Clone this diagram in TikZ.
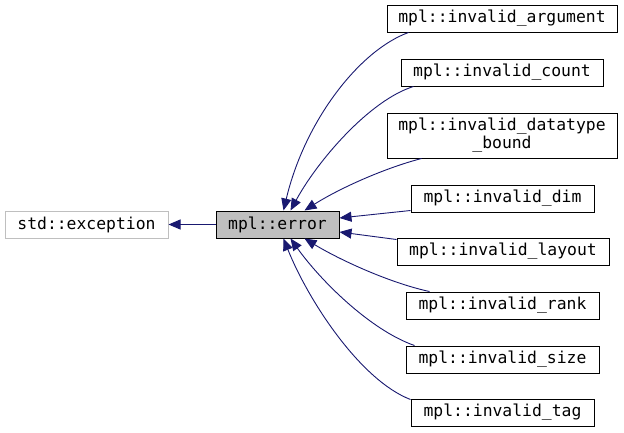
\documentclass[tikz,border=0pt]{standalone}
\usepackage{fontspec}
\setmonofont{DejaVu Sans Mono}
\usetikzlibrary{arrows.meta}
\definecolor{edgeblue}{RGB}{25,25,112}
\definecolor{boxgray}{RGB}{191,191,191}
\tikzset{
  cls/.style={draw=black, line width=1pt, inner sep=0pt, align=center,
    font=\ttfamily\fontsize{16.4}{18}\selectfont, minimum height=27pt},
  inh/.style={draw=edgeblue, line width=0.9pt,
    {Triangle[length=12pt,width=10pt,fill=edgeblue]}-},
}
\begin{document}
\begin{tikzpicture}[x=1pt,y=-1pt]
\useasboundingbox (0,0) rectangle (624,432);
\node[cls, draw=boxgray, minimum width=163pt] (exc) at (86.5,224.5) {std::exception};
\node[cls, fill=boxgray, minimum width=123pt] (err) at (277.5,224.5) {mpl::error};
\node[cls, minimum width=230pt] (arg) at (502,18.5) {mpl::invalid\_argument};
\node[cls, minimum width=202pt] (cnt) at (502,72.5) {mpl::invalid\_count};
\node[cls, minimum width=230pt, minimum height=45pt] (dtb) at (502,135.5) {mpl::invalid\_datatype\\\_bound};
\node[cls, minimum width=183pt] (dim) at (502.5,198.5) {mpl::invalid\_dim};
\node[cls, minimum width=212pt] (lay) at (503,251.5) {mpl::invalid\_layout};
\node[cls, minimum width=193pt] (rnk) at (502.5,305.5) {mpl::invalid\_rank};
\node[cls, minimum width=193pt] (siz) at (502.5,359.5) {mpl::invalid\_size};
\node[cls, minimum width=183pt] (tag) at (502.5,412.5) {mpl::invalid\_tag};

\draw[inh] (exc.east) -- (err.west);
\draw[inh] ([xshift=68pt]err.north west) .. controls (305,120) and (360,50) .. ([xshift=22pt]arg.south west);
\draw[inh] ([xshift=75pt]err.north west) .. controls (318,160) and (370,100) .. ([xshift=13pt]cnt.south west);
\draw[inh] ([xshift=89pt]err.north west) .. controls (340,188) and (385,168) .. ([xshift=35pt]dtb.south west);
\draw[inh] ([yshift=6.5pt]err.east) -- ([yshift=2pt]dim.south west);
\draw[inh] ([yshift=-7.5pt]err.east) -- ([yshift=-2pt]lay.north west);
\draw[inh] ([xshift=89pt]err.south west) .. controls (340,260) and (390,283) .. ([xshift=24pt]rnk.north west);
\draw[inh] ([xshift=75pt]err.south west) .. controls (320,280) and (370,330) .. ([xshift=9pt]siz.north west);
\draw[inh] ([xshift=68pt]err.south west) .. controls (308,300) and (360,380) .. ([yshift=-1pt]tag.north west);
\end{tikzpicture}
\end{document}
